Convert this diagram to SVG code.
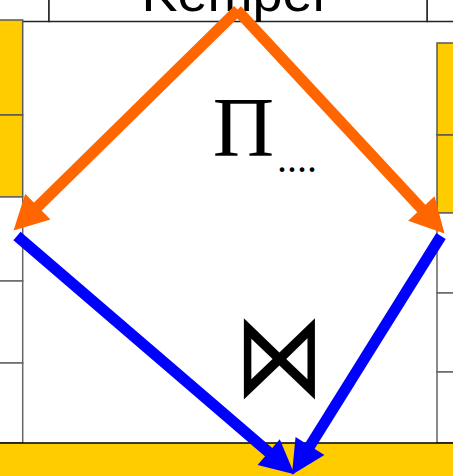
<svg xmlns="http://www.w3.org/2000/svg" width="453" height="476" viewBox="0 0 453 476">
<style>
.y{fill:#ffcc00;stroke:#5a5a50;stroke-width:1.5}
.w{fill:#ffffff;stroke:#666;stroke-width:1.5}
.t{fill:#fff;stroke:#222;stroke-width:1.5}
.o{stroke:#ff6600;stroke-width:11;fill:none}
.b{stroke:#0000ff;stroke-width:11;fill:none}
.sans{font-family:"Liberation Sans",Arial,sans-serif;fill:#000}
.serif{font-family:"Liberation Serif","Times New Roman",serif;fill:#000}
</style>
<defs>
<marker id="ao" markerUnits="userSpaceOnUse" markerWidth="40" markerHeight="40" viewBox="0 -20 36 40" refX="2" refY="0" orient="auto"><path d="M0,-18 L34,0 L0,18 z" fill="#ff6600"/></marker>
<marker id="ab" markerUnits="userSpaceOnUse" markerWidth="40" markerHeight="40" viewBox="0 -20 36 40" refX="2" refY="0" orient="auto"><path d="M0,-17 L34,0 L0,17 z" fill="#0000ff"/></marker>
</defs>
<rect width="453" height="476" fill="#fff"/>
<g id="top-left"><rect class="t" x="-2" y="-10" width="51" height="31.5"/></g>
<g id="top-right"><rect class="t" x="427" y="-10" width="30" height="31.5"/></g>
<g id="left-column">
<rect class="y" x="-2" y="20" width="24.7" height="95"/>
<rect class="y" x="-2" y="115" width="24.7" height="82"/>
<rect class="w" x="-2" y="197" width="24.7" height="84"/>
<rect class="w" x="-2" y="281" width="24.7" height="82"/>
<rect class="w" x="-2" y="363" width="24.7" height="80"/>
</g>
<g id="right-column">
<rect class="y" x="437" y="43" width="20" height="92"/>
<rect class="y" x="437" y="135" width="20" height="78"/>
<rect class="w" x="437" y="213" width="20" height="80"/>
<rect class="w" x="437" y="293" width="20" height="79"/>
<rect class="w" x="437" y="372" width="20" height="71"/>
</g>
<g id="kemper"><rect class="t" x="49" y="-10" width="378" height="31.5"/><text class="sans" x="236" y="11" font-size="54" text-anchor="middle">Kemper</text></g>
<g id="bottom"><rect x="-2" y="443" width="457" height="40" fill="#ffcc00" stroke="#000" stroke-width="1.5"/></g>
<g id="connectors">
<line class="o" x1="238" y1="10" x2="36.4" y2="208" marker-end="url(#ao)"/>
<line class="o" x1="237" y1="10" x2="422.7" y2="210" marker-end="url(#ao)"/>
<line class="b" x1="17" y1="236" x2="270.2" y2="453.5" marker-end="url(#ab)"/>
<line class="b" x1="441" y1="236" x2="308.9" y2="447.6" marker-end="url(#ab)"/>
</g>
<g id="projection"><text class="serif" x="243.5" y="156" font-size="85" text-anchor="middle">Π</text><text class="serif" x="277" y="172" font-size="40">....</text></g>
<g id="join"><text transform="translate(279.5,396) scale(1,1.315)" x="0" y="0" font-family="DejaVu Sans,sans-serif" font-size="90" text-anchor="middle">⋈</text></g>
</svg>
